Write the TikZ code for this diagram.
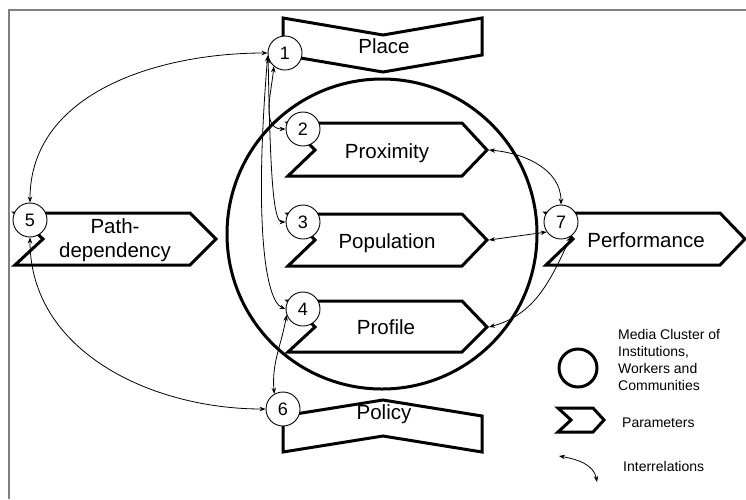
\documentclass[tikz,border=0pt]{standalone}
\usepackage{fontspec}
\setmainfont{Liberation Sans}
\usetikzlibrary{arrows.meta}

\begin{document}
\begin{tikzpicture}[x=1pt, y=1pt,
    num/.style={draw, circle, fill=white, minimum size=34pt, inner sep=0pt, line width=0.9pt, font=\fontsize{18}{20}\selectfont},
    param/.style={line width=3pt, line join=miter},
    lbl/.style={inner sep=0pt, font=\fontsize{20.5}{24}\selectfont},
    legendtext/.style={inner sep=0pt, anchor=west, font=\fontsize{14}{17}\selectfont},
    rel/.style={{Stealth[length=6pt,width=4.5pt]}-{Stealth[length=6pt,width=4.5pt]}, line width=0.8pt}]
    \useasboundingbox (0,0) rectangle (746,-499);
    \draw[gray, line width=1.5pt] (9,-499) -- (9,-10) -- (746,-10);

    % media cluster
    \draw[line width=3pt] (382,-234) circle (155pt);

    % parameters
    \draw[param] (283,-18) -- (383,-35) -- (482,-18) -- (482,-55) -- (383,-72) -- (283,-55) -- cycle;
    \draw[param] (283,-416) -- (383,-400) -- (482,-416) -- (482,-452) -- (383,-436) -- (283,-452) -- cycle;
    \draw[param] (15,-213) -- (190,-213) -- (216,-239) -- (190,-265) -- (15,-265) -- (43,-239) -- cycle;
    \draw[param] (288,-123) -- (462,-123) -- (487,-150) -- (462,-176) -- (288,-176) -- (315,-150) -- cycle;
    \draw[param] (288,-214) -- (462,-214) -- (487,-240) -- (462,-266) -- (288,-266) -- (315,-240) -- cycle;
    \draw[param] (288,-301) -- (462,-301) -- (487,-327) -- (462,-352) -- (288,-352) -- (315,-327) -- cycle;
    \draw[param] (546,-213) -- (720,-213) -- (745,-239) -- (720,-265) -- (546,-265) -- (573,-239) -- cycle;

    \node[lbl] (place) at (384,-46) {Place};
    \node[lbl] (policy) at (384,-414) {Policy};
    \node[lbl, align=center] (path) at (115,-240) {Path-\\dependency};
    \node[lbl] (prox) at (387,-153) {Proximity};
    \node[lbl] (pop) at (387,-243) {Population};
    \node[lbl] (prof) at (386,-327) {Profile};
    \node[lbl] (perf) at (646,-240) {Performance};

    \coordinate (proxtip) at (489,-150);
    \coordinate (poptip) at (489,-240);
    \coordinate (proftip) at (489,-327);

    \node[num] (c1) at (285,-53) {1};
    \node[num] (c2) at (303,-129) {2};
    \node[num] (c3) at (303,-222) {3};
    \node[num] (c4) at (303,-309) {4};
    \node[num] (c5) at (30,-220) {5};
    \node[num] (c6) at (283,-409) {6};
    \node[num] (c7) at (561,-222) {7};

    % interrelations
    \draw[rel] (c1.west) to[out=180, in=90] (c5.north);
    \draw[rel] (c5.south) to[out=-90, in=180] (c6.west);
    \draw[rel] (c1.230) to[out=-95, in=180] (c2.west);
    \draw[rel] (c1.195) .. controls +(2,-120) and +(-12,0) .. (c3.west);
    \draw[rel] (c1.188) .. controls +(-14,-170) and +(-20,8) .. (c4.west);
    \draw[rel] (c4.200) to[out=-100, in=95] (c6.120);
    \draw[rel] (proxtip) to[out=-5, in=90] (c7.north);
    \draw[rel] (poptip) -- (c7.215);
    \draw[rel] (proftip) to[out=15, in=-115] (c7.-55);

    % legend
    \draw[line width=3pt] (578,-368) circle (19pt);
    \node[legendtext, anchor=north west, align=left] (mclabel) at (618,-329) {Media Cluster of\\Institutions,\\Workers and\\Communities};
    \draw[line width=3pt] (558,-408) -- (593,-408) -- (604,-420) -- (593,-432) -- (558,-432) -- (571,-420) -- cycle;
    \node[legendtext] (parlabel) at (622,-423) {Parameters};
    \coordinate (ia) at (559,-456);
    \coordinate (ib) at (597,-482);
    \draw[rel] (ia) to[out=-10, in=100] (ib);
    \node[legendtext] (rellabel) at (623,-466) {Interrelations};
\end{tikzpicture}
\end{document}
